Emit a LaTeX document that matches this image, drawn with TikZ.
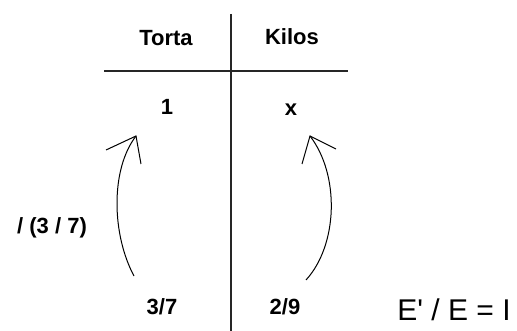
\documentclass[tikz,border=0pt]{standalone}
\usepackage{fontspec}
\setmainfont{Liberation Sans}
\begin{document}
\begin{tikzpicture}[x=1pt,y=-1pt,
  lbl/.style={font=\fontsize{22}{25}\selectfont\bfseries, inner sep=0pt},
  big/.style={font=\fontsize{30}{34}\selectfont, inner sep=0pt},
  rule/.style={line width=1.5pt, draw=black!85},
  curve/.style={line width=1pt, draw=black}]
\useasboundingbox (0,0) rectangle (517,331);
% table rules
\coordinate (vt) at (231,14);
\coordinate (vb) at (231,331);
\coordinate (hl) at (104,71);
\coordinate (hr) at (348,71);
\draw[rule] (vt) -- (vb);
\draw[rule] (hl) -- (hr);
% headers and entries
\node[lbl] (torta) at (166,38) {Torta};
\node[lbl] (kilos) at (292,37) {Kilos};
\node[lbl] (one) at (167,107) {1};
\node[lbl] (x) at (291,110) {x};
\node[lbl] (f1) at (52,228) {/ (3 / 7)};
\node[lbl] (f2) at (162,307) {3/7};
\node[lbl] (f3) at (285,307) {2/9};
\node[big] (eq) at (454,310) {E\textquotesingle\ / E = I};
% left arrow
\coordinate (ls) at (134,276);
\coordinate (lt) at (136,136);
\coordinate (lh1) at (106,150);
\coordinate (lh2) at (141,164);
\draw[curve] (ls) .. controls (112,235) and (110,170) .. (lt);
\draw[curve] (lh1) -- (lt) -- (lh2);
% right arrow
\coordinate (rs) at (306,280);
\coordinate (rt) at (310,136);
\coordinate (rh1) at (302,164);
\coordinate (rh2) at (336,149);
\draw[curve] (rs) .. controls (338,245) and (340,175) .. (rt);
\draw[curve] (rh1) -- (rt) -- (rh2);
\end{tikzpicture}
\end{document}
